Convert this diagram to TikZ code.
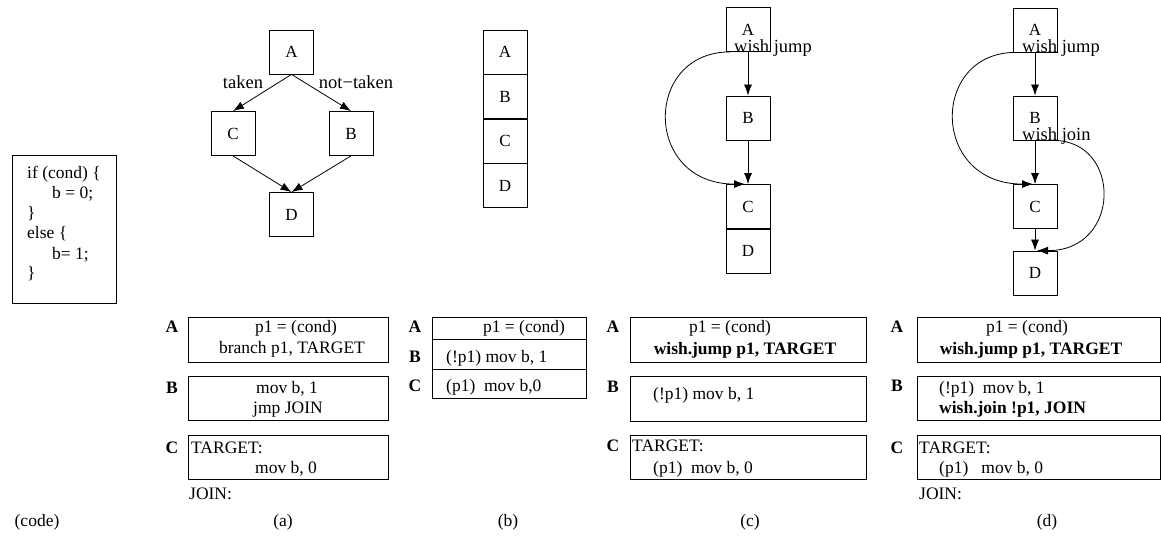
\documentclass[tikz,border=0pt]{standalone}
\usepackage{fontspec}
\setmainfont{Liberation Serif}
\usetikzlibrary{arrows.meta, positioning}
\newcommand{\txtsize}{\fontsize{17.5}{20}\selectfont}
\newcommand{\edgesize}{\fontsize{18.5}{21}\selectfont}
\tikzset{
  blk/.style={rectangle, draw, line width=0.8pt, minimum width=44pt,
    minimum height=44pt, inner sep=0pt, font=\fontsize{17}{20}\selectfont},
  cbox/.style={rectangle, draw, line width=0.8pt, inner sep=0pt},
  txt/.style={inner sep=0pt, anchor=base, font=\txtsize},
  ltxt/.style={inner sep=0pt, anchor=base west, font=\txtsize},
  etxt/.style={inner sep=0pt, anchor=base west, font=\edgesize},
  tag/.style={inner sep=0pt, anchor=base, font=\txtsize\bfseries},
  arrow/.style={-{Latex[length=11pt,width=8pt]}, line width=0.8pt}
}

\begin{document}
\begin{tikzpicture}[x=1pt, y=-1pt]
    \useasboundingbox (0,0) rectangle (1161,537);

    % Source code
    \node[cbox, minimum width=104pt, minimum height=148pt] (code) at (64,229) {};
    \node[ltxt] (code1) at (27,179) {if (cond) \{};
    \node[ltxt] (code2) at (52,199) {b = 0;};
    \node[ltxt] (code3) at (27,219) {\}};
    \node[ltxt] (code4) at (27,239) {else \{};
    \node[ltxt] (code5) at (52,259) {b= 1;};
    \node[ltxt] (code6) at (27,279) {\}};
    \node[txt] (capcode) at (37,526) {(code)};

    % Panel (a): control flow graph
    \node[blk] (aA) at (291.5,52) {A};
    \node[blk] (aC) at (233,133.5) {C};
    \node[blk] (aB) at (351,133.5) {B};
    \node[blk] (aD) at (291.5,214.5) {D};

    \draw[arrow] (aA.south) -- (aC.north);
    \draw[arrow] (aA.south) -- (aB.north);
    \draw[arrow] (aC.south) -- (aD.north);
    \draw[arrow] (aB.south) -- (aD.north);

    \node[txt, font=\edgesize] (aTaken) at (243,89) {taken};
    \node[txt, font=\edgesize] (aNot) at (356,89) {not−taken};

    % Panel (a): code
    \node[cbox, minimum width=200pt, minimum height=45pt] (aBoxA) at (288,339.5) {};
    \node[cbox, minimum width=200pt, minimum height=44pt] (aBoxB) at (288,398) {};
    \node[cbox, minimum width=200pt, minimum height=44pt] (aBoxC) at (288,457) {};
    \node[tag] (aTagA) at (172,332) {A};
    \node[tag] (aTagB) at (172,393) {B};
    \node[tag] (aTagC) at (172,453) {C};
    \node[txt] (aA1) at (296,332) {p1 = (cond)};
    \node[txt] (aA2) at (292,353) {branch p1, TARGET};
    \node[txt] (aB1) at (287,393) {mov b, 1};
    \node[txt] (aB2) at (288,413) {jmp JOIN};
    \node[ltxt] (aC1) at (191,453) {TARGET:};
    \node[txt] (aC2) at (286,473) {mov b, 0};
    \node[ltxt] (aJoin) at (189,499) {JOIN:};
    \node[txt] (capa) at (283,526) {(a)};

    % Panel (b): straight-line blocks
    \node[blk] (bA) at (505,52) {A};
    \node[blk] (bB) at (505,96.5) {B};
    \node[blk] (bC) at (505,141) {C};
    \node[blk] (bD) at (505,185.5) {D};

    % Panel (b): code
    \node[cbox, minimum width=154pt, minimum height=22pt] (bBoxA) at (509,328) {};
    \node[cbox, minimum width=154pt, minimum height=30pt] (bBoxB) at (509,354) {};
    \node[cbox, minimum width=154pt, minimum height=29pt] (bBoxC) at (509,383.5) {};
    \node[tag] (bTagA) at (415,332) {A};
    \node[tag] (bTagB) at (415,362) {B};
    \node[tag] (bTagC) at (415,391) {C};
    \node[txt] (bA1) at (524,332) {p1 = (cond)};
    \node[ltxt] (bB1) at (446,362) {(!p1) mov b, 1};
    \node[ltxt] (bC1) at (446,391) {(p1)\ \ mov b,0};
    \node[txt] (capb) at (508,526) {(b)};

    % Panel (c): wish jump
    \node[blk] (cA) at (748,29.5) {A};
    \node[blk] (cB) at (748,118) {B};
    \node[blk] (cC) at (748,206.5) {C};
    \node[blk] (cD) at (748,251) {D};

    \draw[arrow] (cA.south) -- (cB.north);
    \draw[arrow] (cB.south) -- (cC.north);
    \draw[arrow] ([xshift=-18pt]cA.south) .. controls (643,52) and (643,184) .. ([xshift=-3pt]cC.north);
    \node[etxt] (cJump) at (734,53) {wish jump};

    % Panel (c): code
    \node[cbox, minimum width=236pt, minimum height=45pt] (cBoxA) at (748,339.5) {};
    \node[cbox, minimum width=236pt, minimum height=45pt] (cBoxB) at (748,398.5) {};
    \node[cbox, minimum width=236pt, minimum height=44pt] (cBoxC) at (748,457) {};
    \node[tag] (cTagA) at (613,332) {A};
    \node[tag] (cTagB) at (613,392) {B};
    \node[tag] (cTagC) at (613,451) {C};
    \node[txt] (cA1) at (730,332) {p1 = (cond)};
    \node[txt, font=\txtsize\bfseries] (cA2) at (745,354) {wish.jump p1, TARGET};
    \node[ltxt] (cB1) at (653,399) {(!p1) mov b, 1};
    \node[ltxt] (cC1) at (632,451) {TARGET:};
    \node[ltxt] (cC2) at (653,473) {(p1)\ \ mov b, 0};
    \node[txt] (capc) at (750,526) {(c)};

    % Panel (d): wish jump and wish join
    \node[blk] (dA) at (1035,30) {A};
    \node[blk] (dB) at (1035,118) {B};
    \node[blk] (dC) at (1035,206.5) {C};
    \node[blk] (dD) at (1035,273) {D};

    \draw[arrow] (dA.south) -- (dB.north);
    \draw[arrow] (dB.south) -- (dC.north);
    \draw[arrow] (dC.south) -- (dD.north);
    \draw[arrow] ([xshift=-19pt]dA.south) .. controls (930,52) and (930,184) .. ([xshift=-2pt]dC.north);
    \draw[arrow] ([xshift=18pt]dB.south) .. controls (1122,140) and (1122,251) .. ([xshift=2pt]dD.north);
    \node[etxt] (dJump) at (1022,53) {wish jump};
    \node[etxt] (dJoin) at (1022,141) {wish join};

    % Panel (d): code
    \node[cbox, minimum width=243pt, minimum height=45pt] (dBoxA) at (1038.5,339.5) {};
    \node[cbox, minimum width=243pt, minimum height=44pt] (dBoxB) at (1038.5,398) {};
    \node[cbox, minimum width=243pt, minimum height=44pt] (dBoxC) at (1038.5,457) {};
    \node[tag] (dTagA) at (897,332) {A};
    \node[tag] (dTagB) at (897,391) {B};
    \node[tag] (dTagC) at (897,453) {C};
    \node[txt] (dA1) at (1027,332) {p1 = (cond)};
    \node[txt, font=\txtsize\bfseries] (dA2) at (1031,354) {wish.jump p1, TARGET};
    \node[ltxt] (dB1) at (939,393) {(!p1)\ \ mov b, 1};
    \node[ltxt, font=\txtsize\bfseries] (dB2) at (939,413) {wish.join !p1, JOIN};
    \node[ltxt] (dC1) at (919,453) {TARGET:};
    \node[ltxt] (dC2) at (939,473) {(p1)\ \ \ mov b, 0};
    \node[ltxt] (dJoinLbl) at (919,499) {JOIN:};
    \node[txt] (capd) at (1047,526) {(d)};
\end{tikzpicture}
\end{document}
